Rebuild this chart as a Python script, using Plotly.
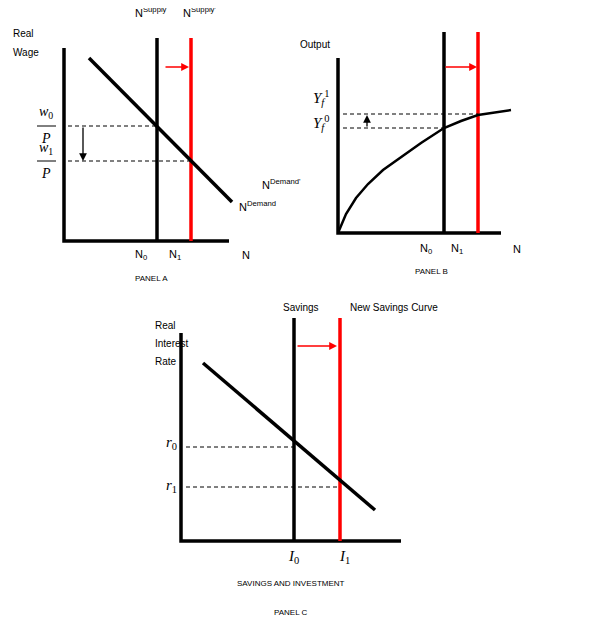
import plotly.graph_objects as go

# pixel-space coordinates of the diagram (y measured downward)
# panel A: labour market
a_axis_x = [63, 63, 228]
a_axis_y = [48, 241, 241]
a_supply0_x = 156
a_supply1_x = 190
a_supply_top = 38
a_demand_x = [88, 231]
a_demand_y = [58, 202]
a_w0_y = 126
a_w1_y = 161

# panel B: production function
b_axis_x = [337, 337, 500]
b_axis_y = [58, 233, 233]
b_n0_x = 443
b_n1_x = 477
b_top = 32
b_curve_x = [337, 345, 355, 367, 382, 400, 420, 443, 460, 477, 495, 510]
b_curve_y = [233, 214, 198, 184, 170, 157, 143, 128, 121, 115, 112, 110]
b_y0 = 128
b_y1 = 114

# panel C: savings and investment
c_axis_x = [180, 180, 400]
c_axis_y = [333, 541, 541]
c_s0_x = 293
c_s1_x = 339
c_top = 318
c_inv_x = [202, 374]
c_inv_y = [363, 510]
c_r0_y = 447
c_r1_y = 487

fig = go.Figure()


def line(x, y, color="black", width=3.5, dash=None):
    fig.add_trace(go.Scatter(x=x, y=y, mode="lines", hoverinfo="skip",
                             line=dict(color=color, width=width, dash=dash)))


def arrow(x0, y0, x1, y1, color="black"):
    fig.add_annotation(x=x1, y=y1, ax=x0, ay=y0, xref="x", yref="y",
                       axref="x", ayref="y", text="", showarrow=True,
                       arrowhead=2, arrowsize=1.2, arrowwidth=1.3, arrowcolor=color)


def label(x, y, text, size=11, family="Liberation Sans", xanchor="left"):
    fig.add_annotation(x=x, y=y, text=text, showarrow=False, xanchor=xanchor,
                       font=dict(size=size, family=family, color="black"))


serif = "Liberation Serif"
dsh = "4px,3px"

# ---- panel A
line(a_axis_x, a_axis_y)
line([a_supply0_x, a_supply0_x], [a_supply_top, a_axis_y[1]])
line([a_supply1_x, a_supply1_x], [a_supply_top, a_axis_y[1]], color="red")
line(a_demand_x, a_demand_y)
line([67, a_supply0_x], [a_w0_y, a_w0_y], width=1, dash=dsh)
line([67, a_supply1_x], [a_w1_y, a_w1_y], width=1, dash=dsh)
arrow(82, a_w0_y, 82, a_w1_y)
arrow(163, 67, 188, 67, color="red")
label(150, 12, "N<sup>Supply</sup>", xanchor="center")
label(198, 12, "N<sup>Supply'</sup>", xanchor="center")
label(10, 33, "Real", 10)
label(10, 52, "Wage", 10)
label(45, 112, "<i>w</i><sub>0</sub>", 14, serif, "center")
label(45, 138, "<i>P</i>", 14, serif, "center")
label(45, 148, "<i>w</i><sub>1</sub>", 14, serif, "center")
label(45, 173, "<i>P</i>", 14, serif, "center")
line([36, 55], [126, 126], width=1)
line([36, 55], [161, 161], width=1)
label(236, 206, "N<sup>Demand</sup>")
label(259, 184, "N<sup>Demand'</sup>")
label(140, 255, "N<sub>0</sub>", 11, xanchor="center")
label(174, 255, "N<sub>1</sub>", 11, xanchor="center")
label(245, 255, "N", 11, xanchor="center")
label(150, 278, "PANEL A", 8, xanchor="center")

# ---- panel B
line(b_axis_x, b_axis_y)
line([b_n0_x, b_n0_x], [b_top, b_axis_y[1]])
line([b_n1_x, b_n1_x], [b_top, b_axis_y[1]], color="red")
line(b_curve_x, b_curve_y, width=2.5)
line([342, b_n1_x], [b_y1, b_y1], width=1, dash=dsh)
line([342, b_n0_x], [b_y0, b_y0], width=1, dash=dsh)
arrow(366, b_y0, 366, b_y1 + 1)
arrow(443, 67, 476, 67, color="red")
label(297, 44, "Output", 10)
label(320, 98, "<i>Y</i><sub><i>f</i></sub><sup>1</sup>", 15, serif, "center")
label(320, 123, "<i>Y</i><sub><i>f</i></sub><sup>0</sup>", 15, serif, "center")
label(425, 249, "N<sub>0</sub>", 11, xanchor="center")
label(456, 249, "N<sub>1</sub>", 11, xanchor="center")
label(516, 249, "N", 11, xanchor="center")
label(430, 271, "PANEL B", 8, xanchor="center")

# ---- panel C
line(c_axis_x, c_axis_y)
line([c_s0_x, c_s0_x], [c_top, c_axis_y[1]])
line([c_s1_x, c_s1_x], [c_top, c_axis_y[1]], color="red")
line(c_inv_x, c_inv_y)
line([185, c_s0_x], [c_r0_y, c_r0_y], width=1, dash=dsh)
line([185, c_s1_x], [c_r1_y, c_r1_y], width=1, dash=dsh)
arrow(295, 346, 336, 346, color="red")
label(300, 307, "Savings", 10, xanchor="center")
label(393, 307, "New Savings Curve", 10, xanchor="center")
label(152, 325, "Real", 10)
label(152, 343, "Interest", 10)
label(152, 361, "Rate", 10)
label(170, 443, "<i>r</i><sub>0</sub>", 15, serif, "center")
label(170, 486, "<i>r</i><sub>1</sub>", 15, serif, "center")
label(292, 557, "<i>I</i><sub>0</sub>", 15, serif, "center")
label(343, 557, "<i>I</i><sub>1</sub>", 15, serif, "center")
label(290, 583, "SAVINGS AND INVESTMENT", 8, xanchor="center")
label(290, 612, "PANEL C", 8, xanchor="center")

fig.update_layout(width=597, height=627, margin=dict(l=0, r=0, t=0, b=0),
                  plot_bgcolor="white", paper_bgcolor="white", showlegend=False)
# the page body adds an 8px offset, shift the view to compensate
fig.update_xaxes(range=[7, 604], visible=False)
fig.update_yaxes(range=[635, 8], visible=False)
fig.write_html("out.html")
